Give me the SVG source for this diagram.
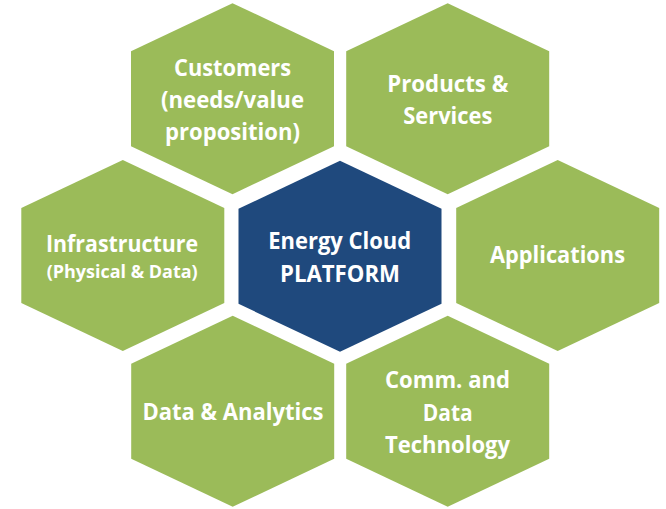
<svg xmlns="http://www.w3.org/2000/svg" xmlns:xlink="http://www.w3.org/1999/xlink" width="666" height="509" viewBox="0 0 666 509">
<style>
.g{fill:#9BBB59}
.b{fill:#1F497D}
text{font-family:"Open Sans","Noto Sans","Liberation Sans",sans-serif;font-weight:bold;fill:#FFFFFF;text-anchor:middle;font-size:23px}
.s{font-size:17.5px}
</style>
<defs>
<polygon id="hex" points="0,-95.5 101.5,-47.5 101.5,47.5 0,95.5 -101.5,47.5 -101.5,-47.5"/>
</defs>
<rect width="666" height="509" fill="#FFFFFF"/>
<g id="connectors"/>
<g id="customers">
<use xlink:href="#hex" class="g" transform="translate(232.5,98.7)"/>
<text x="232.5" y="76" textLength="117" lengthAdjust="spacingAndGlyphs">Customers</text>
<text x="232.5" y="108.3" textLength="143" lengthAdjust="spacingAndGlyphs">(needs/value</text>
<text x="232.5" y="140" textLength="135" lengthAdjust="spacingAndGlyphs">proposition)</text>
</g>
<g id="products">
<use xlink:href="#hex" class="g" transform="translate(447.7,98.7)"/>
<text x="447.8" y="91.7" textLength="121" lengthAdjust="spacingAndGlyphs">Products &amp;</text>
<text x="447.8" y="124" textLength="89" lengthAdjust="spacingAndGlyphs">Services</text>
</g>
<g id="infrastructure">
<use xlink:href="#hex" class="g" transform="translate(122.8,255.5)"/>
<text x="122" y="251.7" textLength="152" lengthAdjust="spacingAndGlyphs">Infrastructure</text>
<text class="s" x="122.2" y="278.3" textLength="151" lengthAdjust="spacingAndGlyphs">(Physical &amp; Data)</text>
</g>
<g id="platform">
<use xlink:href="#hex" class="b" transform="translate(340,256.3)"/>
<text x="339.7" y="249.3" textLength="143" lengthAdjust="spacingAndGlyphs">Energy Cloud</text>
<text x="340" y="281.7" textLength="120" lengthAdjust="spacingAndGlyphs">PLATFORM</text>
</g>
<g id="applications">
<use xlink:href="#hex" class="g" transform="translate(557.7,255.5)"/>
<text x="557.5" y="263.3" textLength="135" lengthAdjust="spacingAndGlyphs">Applications</text>
</g>
<g id="analytics">
<use xlink:href="#hex" class="g" transform="translate(232.7,411.3)"/>
<text x="233" y="420" textLength="181" lengthAdjust="spacingAndGlyphs">Data &amp; Analytics</text>
</g>
<g id="comm">
<use xlink:href="#hex" class="g" transform="translate(447.7,411.3)"/>
<text x="447.5" y="388.3" textLength="125" lengthAdjust="spacingAndGlyphs">Comm. and</text>
<text x="447.7" y="420.7" textLength="50" lengthAdjust="spacingAndGlyphs">Data</text>
<text x="447.5" y="452.7" textLength="125" lengthAdjust="spacingAndGlyphs">Technology</text>
</g>
</svg>
